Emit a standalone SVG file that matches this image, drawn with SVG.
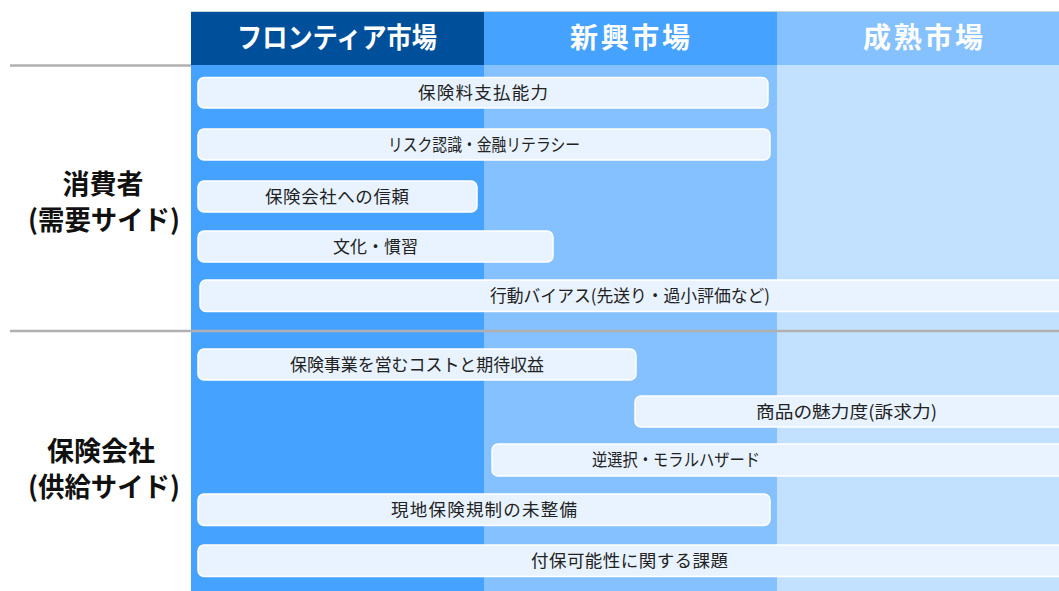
<svg xmlns="http://www.w3.org/2000/svg" width="1059" height="591" viewBox="0 0 1059 591">
<style>
.hd{font-family:"Noto Sans CJK JP","Noto Sans",sans-serif;font-weight:bold;font-size:28px;fill:#ffffff;text-anchor:middle}
.side{font-family:"Noto Sans CJK JP","Noto Sans",sans-serif;font-weight:bold;font-size:27px;fill:#111111;text-anchor:middle}
.bar{fill:#e8f3ff;stroke:#ffffff;stroke-width:1.5}
.bt{font-family:"Noto Sans CJK JP","Noto Sans",sans-serif;font-size:17.5px;fill:#222222;text-anchor:middle}
.div{stroke:#b0b0b0;stroke-width:2.5}
</style>
<rect width="1059" height="591" fill="#ffffff"/>
<g id="columns">
<rect x="191" y="65" width="293" height="526" fill="#45a2ff"/>
<rect x="484" y="65" width="293" height="526" fill="#86c1ff"/>
<rect x="777" y="65" width="282" height="526" fill="#c2e0ff"/>
</g>
<g id="headers">
<line x1="191" y1="11.5" x2="1059" y2="11.5" stroke="#c8d4e0" stroke-width="1"/>
<rect x="191" y="12" width="293" height="53" fill="#004f9a"/>
<rect x="484" y="12" width="293" height="53" fill="#45a2ff"/>
<rect x="777" y="12" width="282" height="53" fill="#86c1ff"/>
<text class="hd" x="337" y="48" textLength="200" lengthAdjust="spacingAndGlyphs">フロンティア市場</text>
<text class="hd" x="630" y="48" textLength="120">新興市場</text>
<text class="hd" x="923" y="48" textLength="120">成熟市場</text>
</g>
<g id="dividers">
<line class="div" x1="10" y1="65.5" x2="191" y2="65.5"/>
<line class="div" x1="10" y1="331" x2="1059" y2="331"/>
</g>
<g id="side-consumer">
<text class="side" x="103" y="194">消費者</text>
<text class="side" x="104" y="230" textLength="152" lengthAdjust="spacingAndGlyphs">(需要サイド)</text>
</g>
<g id="side-insurer">
<text class="side" x="101" y="461">保険会社</text>
<text class="side" x="104" y="497" textLength="152" lengthAdjust="spacingAndGlyphs">(供給サイド)</text>
</g>
<g id="bar1"><rect class="bar" x="198" y="77.5" width="570" height="30.5" rx="6"/><text class="bt" x="483" y="99" textLength="130">保険料支払能力</text></g>
<g id="bar2"><rect class="bar" x="198" y="129" width="572" height="31" rx="6"/><text class="bt" x="484" y="151" textLength="192" lengthAdjust="spacingAndGlyphs">リスク認識・金融リテラシー</text></g>
<g id="bar3"><rect class="bar" x="198" y="181" width="279" height="31" rx="6"/><text class="bt" x="337" y="203" textLength="144">保険会社への信頼</text></g>
<g id="bar4"><rect class="bar" x="198" y="231" width="355" height="31" rx="6"/><text class="bt" x="375.5" y="253" textLength="85" lengthAdjust="spacingAndGlyphs">文化・慣習</text></g>
<g id="bar5"><rect class="bar" x="200" y="280" width="864" height="31.5" rx="6"/><text class="bt" x="630" y="302" textLength="280" lengthAdjust="spacingAndGlyphs">行動バイアス(先送り・過小評価など)</text></g>
<g id="bar6"><rect class="bar" x="198" y="349" width="438" height="31" rx="6"/><text class="bt" x="417" y="371" textLength="254" lengthAdjust="spacingAndGlyphs">保険事業を営むコストと期待収益</text></g>
<g id="bar7"><rect class="bar" x="635" y="396" width="429" height="31" rx="6"/><text class="bt" x="846.5" y="418" textLength="181" lengthAdjust="spacingAndGlyphs">商品の魅力度(訴求力)</text></g>
<g id="bar8"><rect class="bar" x="492" y="444" width="572" height="32" rx="6"/><text class="bt" x="676" y="466" textLength="168" lengthAdjust="spacingAndGlyphs">逆選択・モラルハザード</text></g>
<g id="bar9"><rect class="bar" x="198" y="494" width="572" height="31.5" rx="6"/><text class="bt" x="484" y="516" textLength="186">現地保険規制の未整備</text></g>
<g id="bar10"><rect class="bar" x="198" y="545" width="866" height="31.5" rx="6"/><text class="bt" x="629.5" y="567" textLength="197">付保可能性に関する課題</text></g>
</svg>
